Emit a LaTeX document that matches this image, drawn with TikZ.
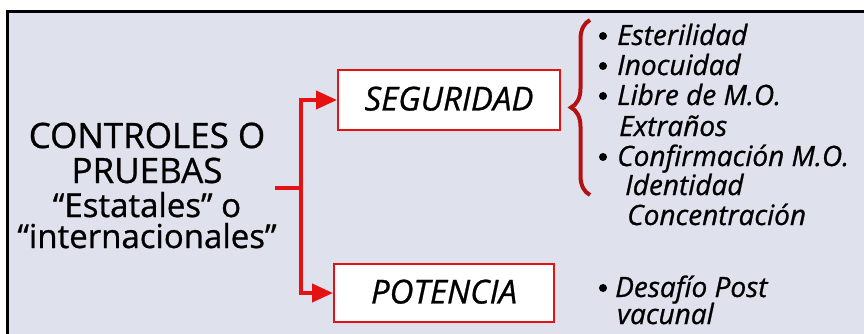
\documentclass[tikz,border=0pt]{standalone}
\usepackage{fontspec}
\setmainfont{Open Sans}[FakeBold=0.8]
\usetikzlibrary{arrows.meta,decorations.pathreplacing}
\definecolor{fondo}{RGB}{223,225,236}
\definecolor{rojo}{RGB}{228,18,18}
\definecolor{rojooscuro}{RGB}{180,18,18}
\tikzset{
  caja/.style={draw=rojo,line width=2pt,fill=white,minimum width=222pt,minimum height=60pt,inner sep=0pt,font=\fontsize{33}{38}\selectfont\itshape},
  titulo/.style={anchor=base,font=\fontsize{35}{40}\selectfont,inner sep=0pt},
  subtitulo/.style={anchor=base,font=\fontsize{33}{38}\selectfont,inner sep=0pt},
  item/.style={anchor=base west,font=\fontsize{28}{30}\selectfont\itshape,inner sep=0pt},
  conector/.style={draw=rojo,line width=4pt},
  flecha/.style={conector,-{Triangle[length=21pt,width=18pt]}}
}
\newcommand{\punto}[1]{\fill (603,#1-9) circle (4pt);}
\begin{document}
\begin{tikzpicture}[x=1pt,y=-1pt]
    % Fondo y marco
    \useasboundingbox (0,0) rectangle (864,334);
    \fill[white] (0,0) rectangle (864,334);
    \fill[fondo] (7,11.5) rectangle (864,334);
    \draw[line width=3pt] (7,334) -- (7,11.5) -- (864,11.5);

    % Titulo
    \node[titulo] (t1) at (147,148) {CONTROLES O};
    \node[titulo] (t2) at (147,183) {PRUEBAS};
    \node[subtitulo] (t3) at (147,217) {“Estatales” o};
    \node[subtitulo] (t4) at (147,248) {“internacionales”};

    % Cajas
    \node[caja] (seg) at (449,100) {\raisebox{3pt}{SEGURIDAD}};
    \node[caja,minimum width=220pt,minimum height=58pt] (pot) at (444,293) {\raisebox{3pt}{POTENCIA}};

    % Conectores
    \coordinate (inicio) at (275,188);
    \coordinate (rama) at (301,188);
    \draw[conector] (inicio) -- (rama);
    \draw[flecha] (rama) |- (seg.west);
    \draw[flecha] (rama) |- (pot.west);

    % Llave
    \coordinate (llaveA) at (590,195);
    \coordinate (llaveB) at (590,20);
    \draw[rojooscuro,line width=4pt,decorate,decoration={brace,amplitude=19pt}] (llaveA) -- (llaveB);

    % Lista de seguridad
    \punto{45} \node[item] (e1) at (617,45) {Esterilidad};
    \punto{75} \node[item] (e2) at (617,75) {Inocuidad};
    \punto{105} \node[item] (e3) at (617,105) {Libre de M.O.};
    \node[item] (e4) at (619,136) {Extraños};
    \punto{166} \node[item] (e5) at (617,166) {Confirmación M.O.};
    \node[item] (e6) at (625,195) {Identidad};
    \node[item] (e7) at (627,225) {Concentración};

    % Lista de potencia
    \punto{297} \node[item] (p1) at (615,297) {Desafío Post};
    \node[item] (p2) at (617,324) {vacunal};
\end{tikzpicture}
\end{document}
